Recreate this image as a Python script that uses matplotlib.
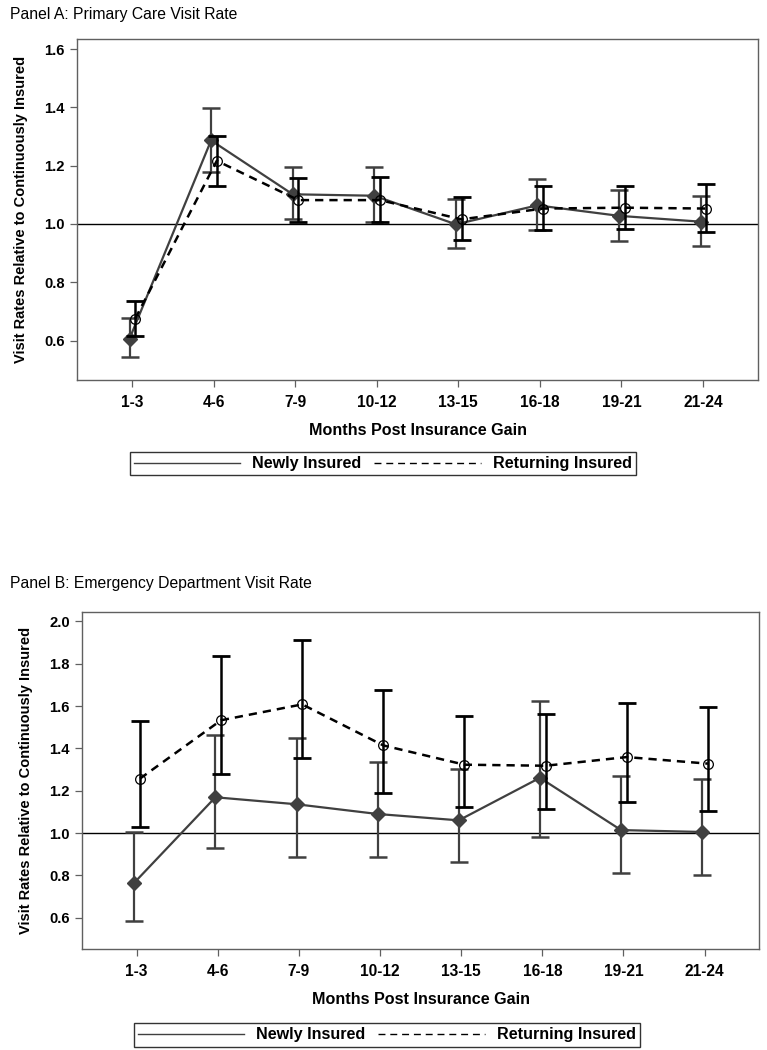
import matplotlib
matplotlib.use("Agg")
import matplotlib.pyplot as plt
from matplotlib.lines import Line2D
import numpy as np

plt.rcParams['font.family'] = ['Liberation Sans', 'DejaVu Sans']

categories = ["1-3", "4-6", "7-9", "10-12", "13-15", "16-18", "19-21", "21-24"]

# Panel A: Primary care visit rate
a_new = [0.606, 1.287, 1.102, 1.097, 0.999, 1.064, 1.028, 1.008]
a_new_lo = [0.542, 1.180, 1.018, 1.007, 0.918, 0.978, 0.943, 0.924]
a_new_hi = [0.677, 1.399, 1.197, 1.195, 1.087, 1.155, 1.117, 1.097]
a_ret = [0.675, 1.217, 1.082, 1.082, 1.016, 1.053, 1.056, 1.053]
a_ret_lo = [0.617, 1.132, 1.008, 1.007, 0.946, 0.979, 0.983, 0.971]
a_ret_hi = [0.737, 1.303, 1.159, 1.161, 1.091, 1.130, 1.132, 1.137]

# Panel B: Emergency department visit rate
b_new = [0.765, 1.169, 1.136, 1.090, 1.060, 1.261, 1.014, 1.005]
b_new_lo = [0.586, 0.931, 0.888, 0.888, 0.863, 0.980, 0.810, 0.803]
b_new_hi = [1.003, 1.465, 1.447, 1.337, 1.301, 1.622, 1.269, 1.257]
b_ret = [1.257, 1.533, 1.608, 1.414, 1.323, 1.318, 1.359, 1.328]
b_ret_lo = [1.030, 1.279, 1.353, 1.190, 1.124, 1.113, 1.147, 1.104]
b_ret_hi = [1.531, 1.836, 1.912, 1.676, 1.553, 1.562, 1.613, 1.595]

titles = ["Panel A: Primary Care Visit Rate", "Panel B: Emergency Department Visit Rate"]
yticksA = [0.6, 0.8, 1.0, 1.2, 1.4, 1.6]
yticksB = [0.6, 0.8, 1.0, 1.2, 1.4, 1.6, 1.8, 2.0]

W, H = 767, 1050
fig = plt.figure(figsize=(W / 100, H / 100), dpi=100)

NEW_C = '#404040'
SPINE_C = '#606060'


def panel(ax, title, new, nlo, nhi, ret, rlo, rhi, yticks, ylim, title_y, legend_xy):
    x = np.arange(len(categories))
    xn = x - 0.03
    xr = x + 0.04
    new = np.array(new); ret = np.array(ret)
    ax.axhline(1.0, color='black', lw=1.0, zorder=1)
    ax.errorbar(xn, new, yerr=[new - np.array(nlo), np.array(nhi) - new],
                fmt='none', ecolor=NEW_C, elinewidth=1.6, capsize=6.5,
                capthick=1.8, zorder=2)
    ax.plot(xn, new, color=NEW_C, lw=1.6, marker='D', markersize=6.8,
            markerfacecolor=NEW_C, markeredgecolor=NEW_C, zorder=3)
    ax.errorbar(xr, ret, yerr=[ret - np.array(rlo), np.array(rhi) - ret],
                fmt='none', ecolor='black', elinewidth=1.8, capsize=6.5,
                capthick=2.0, zorder=4)
    ax.plot(xr, ret, color='black', lw=1.8, linestyle=(0, (3.3, 2.4)),
            marker='o', markersize=7, markerfacecolor='none',
            markeredgecolor='black', markeredgewidth=0.9, zorder=5)
    ax.set_xlim(-0.67, 7.67)
    ax.set_ylim(*ylim)
    ax.set_xticks(x)
    ax.set_xticklabels(categories, fontsize=11.2, fontweight='bold')
    ax.set_yticks(yticks)
    ax.set_yticklabels([f"{v:.1f}" for v in yticks], fontsize=10.6, fontweight='bold')
    ax.tick_params(direction='out', length=5, width=0.9, color=SPINE_C, pad=4)
    ax.tick_params(axis='x', pad=6)
    for s in ax.spines.values():
        s.set_color(SPINE_C)
        s.set_linewidth(1.0)
    ax.set_xlabel("Months Post Insurance Gain", fontsize=11.6, fontweight='bold', labelpad=9)
    ax.set_ylabel("Visit Rates Relative to Continuously Insured", fontsize=10.5,
                  fontweight='bold', labelpad=12)
    handles = [Line2D([0], [0], color=NEW_C, lw=1.0),
               Line2D([0], [0], color='black', lw=1.0, linestyle=(0, (5, 3.5)))]
    leg = ax.legend(handles, ["Newly Insured", "Returning Insured"], ncol=2,
                    loc='center', bbox_to_anchor=legend_xy,
                    bbox_transform=fig.transFigure, frameon=True, fancybox=False,
                    edgecolor='black', handlelength=6.6, handletextpad=0.75,
                    columnspacing=0.8, borderpad=0.25,
                    prop={'size': 11.6, 'weight': 'bold'})
    leg.get_frame().set_linewidth(1.0)
    fig.text(10 / W, 1 - title_y / H, title, fontsize=11.3, va='center', ha='left')


axA = fig.add_axes([77.3 / W, 1 - 380 / H, (757.7 - 77.3) / W, (380 - 39.3) / H])
axB = fig.add_axes([82.3 / W, 1 - 949 / H, (759 - 82.3) / W, (949 - 611.7) / H])

panel(axA, titles[0], a_new, a_new_lo, a_new_hi, a_ret, a_ret_lo, a_ret_hi, yticksA,
      (0.4645, 1.634), 14, (382.7 / W, 1 - 463.8 / H))
panel(axB, titles[1], b_new, b_new_lo, b_new_hi, b_ret, b_ret_lo, b_ret_hi, yticksB,
      (0.452, 2.046), 583.3, (386.6 / W, 1 - 1035 / H))

fig.savefig("out.png", dpi=100)
